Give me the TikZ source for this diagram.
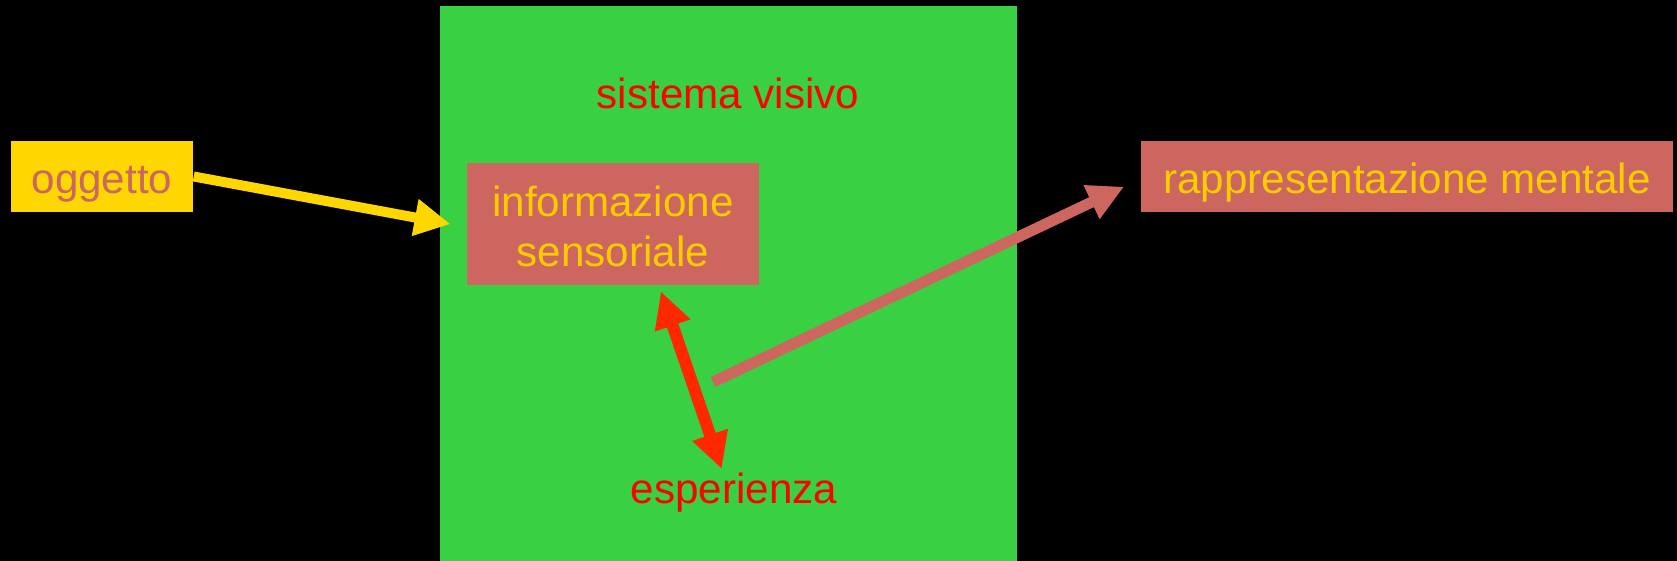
\documentclass[tikz,border=0pt]{standalone}
\usepackage{fontspec}
\setmainfont{Liberation Sans}
\usepackage{tikz}
\usetikzlibrary{%
  positioning,%
  arrows.meta%
}
\definecolor{visgreen}{RGB}{57,208,67}
\definecolor{gold}{RGB}{255,215,0}
\definecolor{salmon}{RGB}{204,102,94}
\definecolor{txtyellow}{RGB}{255,204,0}
\definecolor{arrowred}{RGB}{255,40,0}
\newcommand{\tip}{Triangle[width=0.35cm,length=0.36cm]}
\tikzset{
  box/.style={inner sep=0pt, text height=0.37cm, text depth=0.02cm, minimum height=0.71cm},
  label/.style={text=red, anchor=base, inner sep=0pt},
}

\begin{document}
\begin{tikzpicture}[font=\fontsize{12pt}{14.2pt}\selectfont]
\fill[black] (0,0) rectangle (16.77,-5.61);
\fill[visgreen] (4.40,-0.06) rectangle (10.17,-5.61);

\node[box, fill=gold, text=salmon, minimum width=1.82cm] (oggetto) at (1.02,-1.765) {oggetto};
\node[fill=salmon, text=txtyellow, align=center, inner sep=0pt, minimum width=2.92cm, minimum height=1.22cm] (info) at (6.13,-2.24) {\rule{0pt}{0.35cm}informazione\\sensoriale};
\node[box, fill=salmon, text=txtyellow, minimum width=5.32cm] (rappr) at (14.07,-1.765) {rappresentazione mentale};
\node[label] (sistema) at (7.28,-1.09) {sistema visivo};
\node[label] (esper) at (7.34,-5.04) {esperienza};
\coordinate (origin) at (7.13,-3.82);

\draw
	(oggetto.east) edge[-{\tip}, gold, line width=0.1cm, shorten >=0.16cm] ([yshift=-0.03cm]info.west)
	([xshift=0.46cm]info.south) edge[{\tip}-{\tip}, arrowred, line width=0.12cm, shorten <=0.06cm, shorten >=0.04cm] ([xshift=-0.11cm]esper.north)
	(origin) edge[-{\tip}, salmon, line width=0.11cm, shorten >=0.18cm] ([yshift=-0.025cm]rappr.west)
;
\end{tikzpicture}
\end{document}
